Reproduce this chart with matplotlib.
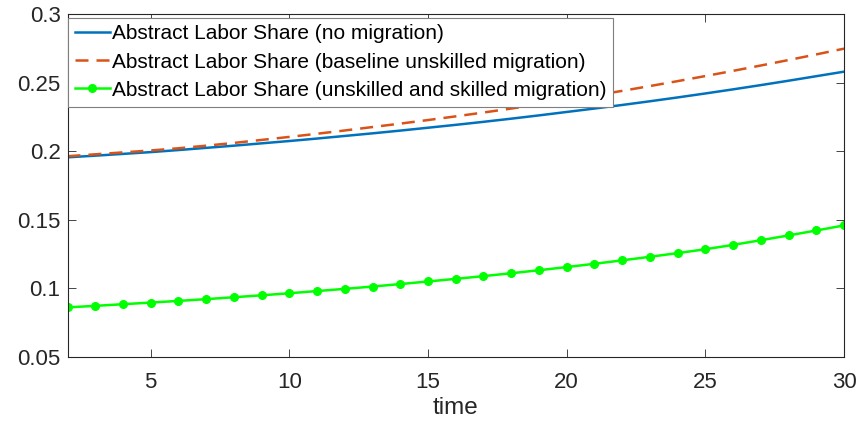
import matplotlib
matplotlib.use("Agg")
import matplotlib.pyplot as plt

plt.rcParams['font.family'] = ['Liberation Sans', 'DejaVu Sans']

time = list(range(2, 31))
no_migration = [0.1955, 0.1967, 0.1980, 0.1993, 0.2008, 0.2024, 0.2040, 0.2057, 0.2074,
                0.2092, 0.2111, 0.2130, 0.2150, 0.2171, 0.2192, 0.2214, 0.2237, 0.2261,
                0.2286, 0.2311, 0.2337, 0.2364, 0.2392, 0.2421, 0.2451, 0.2482, 0.2514,
                0.2547, 0.2580]
baseline_unskilled = [0.1963, 0.1977, 0.1991, 0.2005, 0.2021, 0.2040, 0.2060, 0.2082, 0.2104,
                      0.2127, 0.2151, 0.2176, 0.2201, 0.2227, 0.2254, 0.2282, 0.2311, 0.2341,
                      0.2373, 0.2406, 0.2440, 0.2475, 0.2511, 0.2548, 0.2586, 0.2625, 0.2665,
                      0.2706, 0.2748]
unskilled_skilled = [0.0860, 0.0871, 0.0883, 0.0895, 0.0907, 0.0920, 0.0934, 0.0948, 0.0963,
                     0.0979, 0.0995, 0.1012, 0.1030, 0.1049, 0.1068, 0.1088, 0.1109, 0.1131,
                     0.1154, 0.1178, 0.1203, 0.1229, 0.1256, 0.1284, 0.1316, 0.1350, 0.1385,
                     0.1421, 0.1458]
labels = ["Abstract Labor Share (no migration)",
          "Abstract Labor Share (baseline unskilled migration)",
          "Abstract Labor Share (unskilled and skilled migration)"]
yticks = [0.05, 0.1, 0.15, 0.2, 0.25, 0.3]
ytick_labels = ["0.05", "0.1", "0.15", "0.2", "0.25", "0.3"]
xticks = [5, 10, 15, 20, 25, 30]

fig = plt.figure(figsize=(8.6, 4.28), dpi=100)
ax = fig.add_axes([0.0785, 0.1666, 0.9814 - 0.0785, 0.967 - 0.1666])

ax.plot(time, no_migration, color='#0072BD', lw=1.8, label=labels[0])
ax.plot(time, baseline_unskilled, color='#D95319', lw=1.8, dashes=(5.2, 3.2), label=labels[1])
ax.plot(time, unskilled_skilled, color='#00FF00', lw=1.8, marker='o', markersize=5.5,
        markerfacecolor='#00FF00', markeredgecolor='#00FF00', label=labels[2])

ax.set_xlim(2, 30)
ax.set_ylim(0.05, 0.3)
ax.set_xticks(xticks)
ax.set_yticks(yticks)
ax.set_yticklabels(ytick_labels)
ax.tick_params(direction='in', length=5.5, width=0.6, colors='#262626', labelsize=16,
               top=True, right=True)
ax.tick_params(axis='x', pad=11)
ax.tick_params(axis='y', pad=5)
for s in ax.spines.values():
    s.set_linewidth(0.8)
    s.set_color('#262626')
ax.set_xlabel('time', fontsize=17.5, color='#262626', labelpad=3)

leg = ax.legend(loc='upper left', bbox_to_anchor=(0.001, 0.99), borderaxespad=0,
                fontsize=15.0, fancybox=False, framealpha=1, edgecolor='#7f7f7f',
                handlelength=1.65, handletextpad=0.12, borderpad=0.33, labelspacing=0.44)
leg.get_frame().set_linewidth(0.8)

fig.savefig('out.png', dpi=100)
